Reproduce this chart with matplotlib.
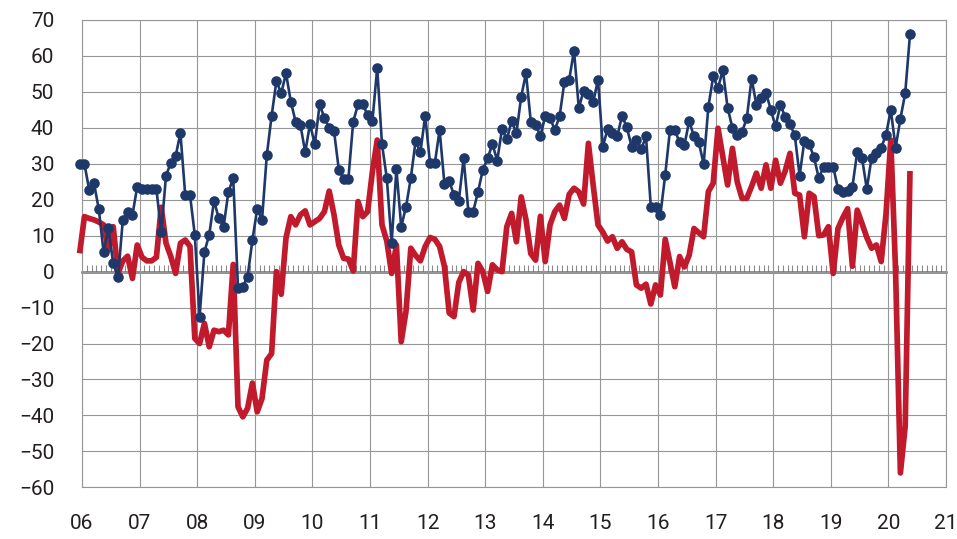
import numpy as np
import matplotlib
matplotlib.use("Agg")
import matplotlib.pyplot as plt
from matplotlib.ticker import FixedLocator

# ---- data (monthly, Jan 2006 .. Jun 2020) ----
start_year = 2006
blue_series = [
    30, 30, 22.7, 24.6, 17.3, 5.4, 12, 2.3, -1.6, 14.4, 16.7, 15.7,
    23.6, 23, 23, 23, 23, 10.9, 26.7, 30.3, 32.1, 38.6, 21.3, 21.3,
    10.2, -12.5, 5.5, 10.2, 19.7, 14.8, 12.5, 22.2, 26, -4.6, -4.2, -1.4,
    8.8, 17.4, 14.4, 32.4, 43.3, 53, 49.6, 55.2, 47.3, 41.7, 40.8, 33.2,
    41.1, 35.4, 46.5, 42.8, 40, 39.1, 28.4, 25.9, 25.9, 41.7, 46.5, 46.5,
    43.6, 41.9, 56.7, 35.4, 26, 7.9, 28.5, 12.5, 18, 26, 36.3, 33.2,
    43.4, 30.1, 30.1, 39.4, 24.5, 25.2, 21.3, 19.7, 31.5, 16.7, 16.7, 22.2,
    28.3, 31.5, 35.5, 30.9, 39.6, 36.8, 41.9, 38.5, 48.7, 55.2, 41.7, 40.8,
    37.8, 43.2, 42.8, 39.4, 43.2, 52.8, 53.4, 61.5, 45.5, 50.3, 49.4, 47.1,
    53.4, 34.8, 39.6, 38.5, 37.6, 43.3, 40.2, 34.8, 36.6, 34, 37.6, 18.1,
    18.1, 15.8, 26.9, 39.5, 39.3, 36, 35.2, 41.9, 37.6, 36, 29.9, 45.9,
    54.3, 51, 56.1, 45.6, 40, 38, 38.8, 42.7, 53.7, 46.4, 48.2, 49.8,
    45, 40.4, 46.4, 43, 41, 37.9, 26.7, 36.4, 35.5, 31.8, 26, 29.2,
    29.2, 29.2, 23, 22.2, 22.5, 23.6, 33.2, 31.7, 23, 31.7, 32.9, 34.5,
    38, 45, 34.5, 42.5, 49.6, 66,
]
red_series = [
    5.1, 15.3, 14.8, 14.4, 13.8, 13.0, 6.0, 12.5, -0.5, 3.0, 4.3, -1.9,
    7.4, 4.0, 3.0, 3.0, 4.0, 17.9, 7.9, 4.2, -0.5, 7.9, 8.8, 7.0,
    -18.6, -20.0, -14.4, -20.9, -16.3, -16.7, -16.3, -17.6, 2.0, -37.6, -40.4, -38.0,
    -31.0, -39.0, -35.3, -24.6, -22.8, 0.0, -6.3, 9.4, 15.3, 13.0, 15.8, 16.9,
    13.0, 13.9, 14.8, 16.7, 22.4, 15.8, 7.4, 3.7, 3.5, 0.2, 19.5, 15.3,
    16.7, 27.8, 36.6, 13.0, 8.5, -0.5, 7.4, -19.5, -11.0, 6.5, 4.5, 3.0,
    7.0, 9.5, 9.0, 7.0, 1.5, -11.5, -12.5, -3.0, 0.0, -1.0, -10.7, 2.3,
    0.0, -5.5, 1.9, 0.5, 0.0, 12.5, 16.2, 8.3, 20.8, 14.4, 5.0, 3.2,
    15.4, 2.8, 13.0, 16.7, 18.5, 14.8, 21.5, 23.2, 22.2, 18.8, 35.7, 24.0,
    13.0, 11.0, 8.5, 9.7, 6.5, 8.3, 6.2, 5.5, -3.7, -4.6, -3.5, -9.0,
    -3.7, -6.5, 9.0, 2.5, -4.2, 4.2, 1.3, 4.6, 12.0, 10.8, 9.7, 22.3,
    24.6, 39.9, 32.0, 24.1, 34.3, 25.0, 20.4, 20.4, 23.7, 27.4, 23.2, 29.7,
    23.2, 31.0, 24.6, 28.0, 32.9, 21.8, 21.3, 9.7, 21.8, 20.9, 10.0, 10.2,
    12.5, -0.5, 12.0, 15.0, 17.5, 1.5, 17.1, 13.4, 9.5, 6.5, 7.4, 2.8,
    16.0, 36.6, 0.0, -56.0, -43.0, 28.0,
]
year_ticks = list(range(2006, 2022))
year_labels = [f"{y % 100:02d}" for y in year_ticks]
value_ticks = list(range(-60, 71, 10))

# ---- style ----
BLUE = "#1d3869"
RED = "#c01a2c"
GRID = "#969696"
TEXT = "#231f20"
plt.rcParams["font.family"] = ["Roboto", "DejaVu Sans"]

months = np.arange(len(blue_series))
x = start_year + (months - 0.5) / 12.0

fig = plt.figure(figsize=(9.57, 5.39), dpi=100)
ax = fig.add_axes([0.0857, 0.0959, 0.9028, 0.867])

ax.plot(x, red_series, color=RED, lw=4.1, solid_joinstyle="round",
        solid_capstyle="butt", zorder=3, clip_on=False)
ax.plot(x, blue_series, color=BLUE, lw=1.9, marker="o", ms=7.6,
        markeredgewidth=0, zorder=4, clip_on=False)

ax.set_xlim(year_ticks[0], year_ticks[-1])
ax.set_ylim(value_ticks[0], value_ticks[-1])
ax.set_xticks(year_ticks)
ax.set_xticklabels(year_labels)
ax.set_yticks(value_ticks)
ax.tick_params(axis="both", length=0, labelsize=15, colors=TEXT)
ax.tick_params(axis="x", pad=19)
ax.tick_params(axis="y", pad=20)
ax.grid(True, color=GRID, lw=0.8, zorder=0)
ax.set_axisbelow(True)
for sp in ax.spines.values():
    sp.set_color(GRID)
    sp.set_linewidth(0.8)

# zero line with monthly tick marks
zero_frac = (0 - value_ticks[0]) / (value_ticks[-1] - value_ticks[0])
sec = ax.secondary_xaxis(zero_frac)
sec.spines["bottom"].set_color("#6e6e6e")
sec.spines["bottom"].set_linewidth(1.8)
sec.xaxis.set_major_locator(FixedLocator(
    [year_ticks[0] + k / 12.0 for k in range(1, (year_ticks[-1] - year_ticks[0]) * 12)]))
sec.tick_params(axis="x", direction="in", length=5, width=0.8,
                color="#8c8c8c", labelbottom=False)

fig.savefig("out.png", dpi=100)
